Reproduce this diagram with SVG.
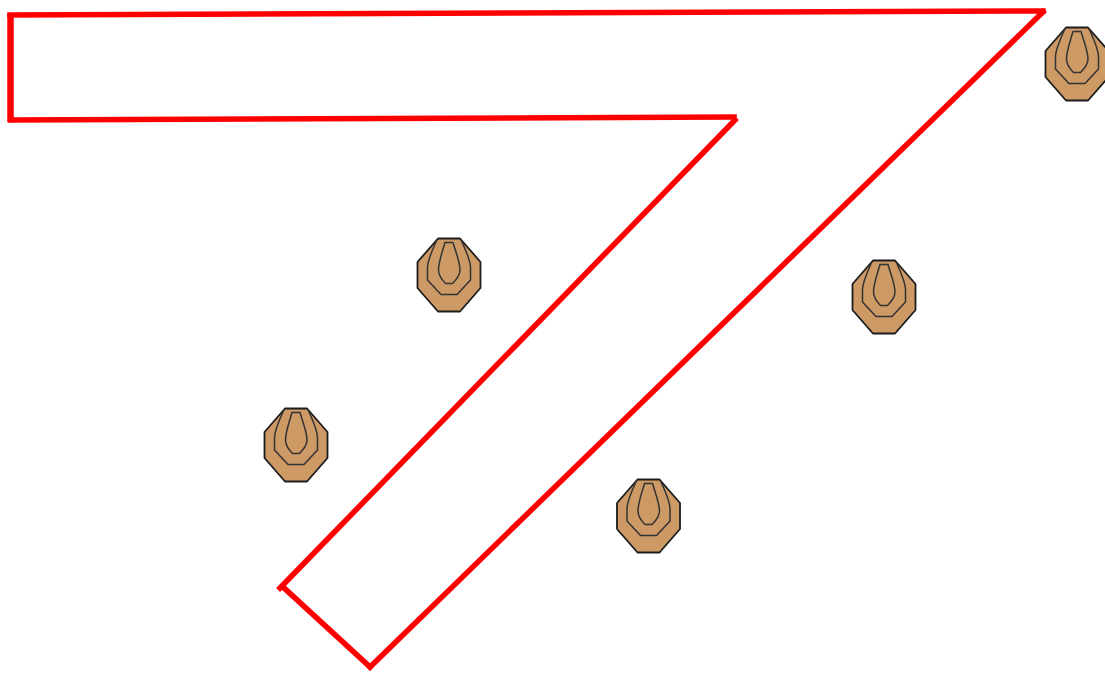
<svg xmlns="http://www.w3.org/2000/svg" width="1105" height="673" viewBox="0 0 1105 673">
<style>
.wall{fill:none;stroke:#ff0000;stroke-width:5.500;stroke-linecap:square}
.o{fill:#cd9a66;stroke:#1c1c1c;stroke-width:1.800;stroke-linejoin:round}
.r{fill:none;stroke:#333333;stroke-width:1.500;stroke-linejoin:round}
</style>
<defs>
<g id="target">
<path class="o" d="M-11,-36.500H11L31.500,-13V13L11,36.500H-11L-31.500,13V-13Z"/>
<path class="r" d="M-12,-35.500C-17,-24 -21,-16 -21.500,-8V5L-8,19.500H8L21.500,5V-8C21,-16 17,-24 12,-35.500"/>
<path class="r" d="M-4,-32.500H4C7,-22 11,-13 11,-5C11,0 7,5 3.500,8.500H-3.500C-7,5 -10.500,0 -10.500,-5C-10.500,-13 -7,-22 -4,-32.500Z"/>
</g>
</defs>
<rect width="1105" height="673" fill="#ffffff"/>
<g id="outline">
<path class="wall" d="M10,15L1043,11"/>
<path class="wall" d="M1043,12L370,667"/>
<path class="wall" d="M370,667L283,587"/>
<path class="wall" d="M280,588L735,120"/>
<path class="wall" d="M734,117L11,120"/>
<path class="wall" style="stroke-width:6.500" d="M10.500,17V119"/>
</g>
<g id="target-1"><use href="#target" x="449" y="275"/></g>
<g id="target-2"><use href="#target" x="884" y="297"/></g>
<g id="target-3"><use href="#target" x="296" y="445"/></g>
<g id="target-4"><use href="#target" x="648.500" y="516"/></g>
<g id="target-5"><use href="#target" x="1077" y="64"/></g>
</svg>
